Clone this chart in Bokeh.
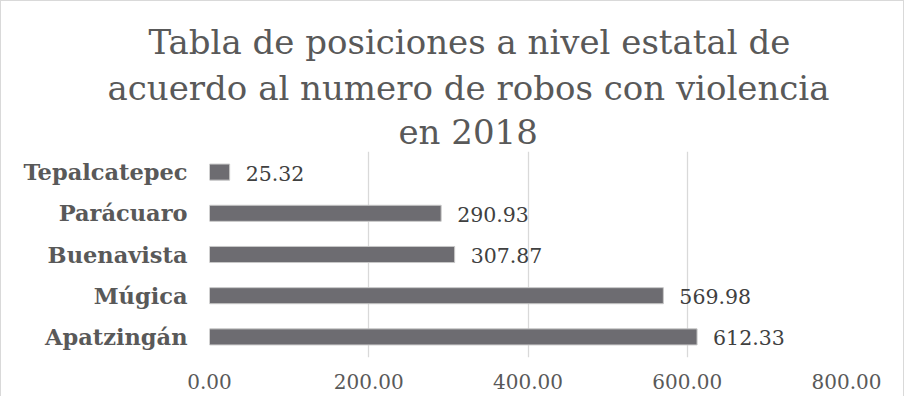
from bokeh.plotting import figure
from bokeh.models import ColumnDataSource, FactorRange, Range1d, Title, FixedTicker, CustomJSTickFormatter
from bokeh.core.properties import value
from bokeh.embed import file_html
from bokeh.resources import INLINE

# ---- data ----
municipios = ["Apatzingán", "Múgica", "Buenavista", "Parácuaro", "Tepalcatepec"]
robos = [612.33, 569.98, 307.87, 290.93, 25.32]
etiquetas = ["612.33", "569.98", "307.87", "290.93", "25.32"]
x_ticks = [0, 200, 400, 600, 800]
titulo = ["Tabla de posiciones a nivel estatal de",
          "acuerdo al numero de robos con violencia",
          "en 2018"]

src = ColumnDataSource(dict(m=municipios, v=robos, t=etiquetas))

p = figure(width=904, height=396, output_backend="svg", toolbar_location=None,
           y_range=FactorRange(*municipios), x_range=Range1d(0, 800),
           min_border_left=208, min_border_right=59, min_border_top=150, min_border_bottom=40,
           styles={"border-top": "1px solid #d9d9d9", "border-left": "1px solid #d9d9d9",
                   "border-right": "1px solid #d9d9d9"})
p.title.visible = False
p.outline_line_color = None
p.background_fill_color = "white"
p.border_fill_color = "white"

p.hbar(y="m", right="v", left=0, height=0.39, source=src,
       fill_color="#6d6c71", line_color="#c8c8c8", line_width=1)
p.text(x="v", y="m", text="t", source=src, x_offset=16, y_offset=1,
       text_baseline="middle", text_align="left",
       text_font=value("DejaVu Serif"), text_font_size="20.5px", text_color="#404040")

# axes
xa = p.xaxis[0]
xa.ticker = FixedTicker(ticks=x_ticks)
xa.formatter = CustomJSTickFormatter(code="return tick.toFixed(2);")
xa.axis_line_color = None
xa.major_tick_line_color = None
xa.minor_tick_line_color = None
xa.major_tick_out = 0
xa.major_tick_in = 0
xa.major_label_standoff = 16
xa.major_label_text_font = "DejaVu Serif"
xa.major_label_text_font_size = "20px"
xa.major_label_text_color = "#595959"

ya = p.yaxis[0]
ya.axis_line_color = None
ya.major_tick_line_color = None
ya.minor_tick_line_color = None
ya.major_tick_out = 0
ya.major_tick_in = 0
ya.major_label_standoff = 22
ya.major_label_text_font = "DejaVu Serif"
ya.major_label_text_font_style = "bold"
ya.major_label_text_font_size = "22.5px"
ya.major_label_text_color = "#595959"

p.ygrid.grid_line_color = None
p.xgrid.ticker = FixedTicker(ticks=x_ticks)
p.xgrid.grid_line_color = "#d9d9d9"
p.xgrid.grid_line_width = 1.3

# three centred title lines (added from the frame outward)
offsets = [-61, -102, 189]
standoffs = [4, 4, 0]
for txt, off, so in reversed(list(zip(titulo, offsets, standoffs))):
    p.add_layout(Title(text=txt, align="left", offset=off, standoff=so,
                       text_font="DejaVu Serif", text_font_style="normal",
                       text_font_size="34px", text_color="#595959"), "above")

open("out.html", "w").write(file_html(p, INLINE))
